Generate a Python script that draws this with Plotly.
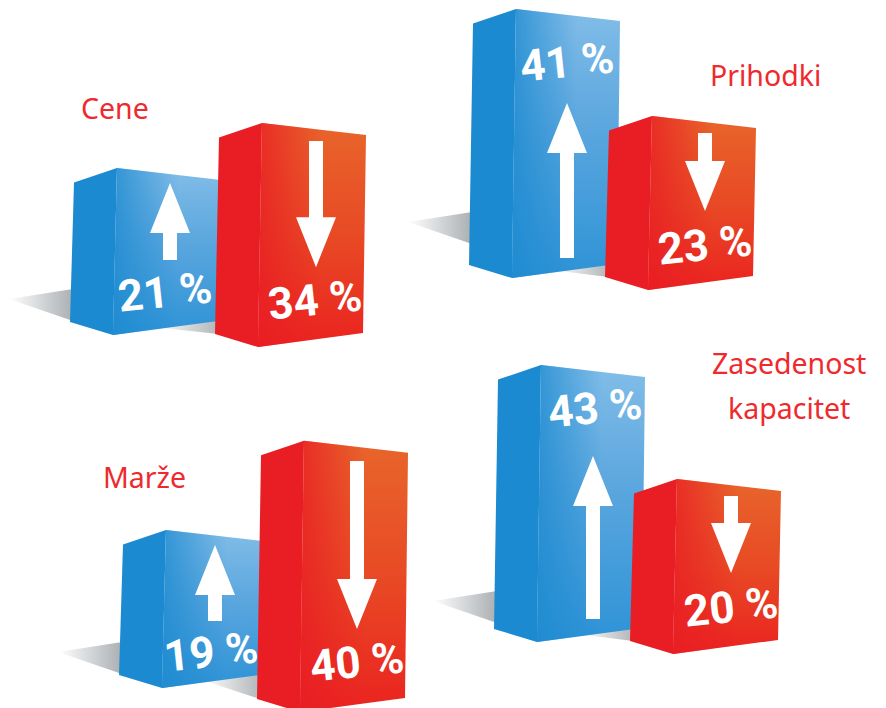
import plotly.graph_objects as go

# ---- data ----
panels = ["Cene", "Prihodki", "Marže", "Zasedenost<br>kapacitet"]
up_values = [21, 41, 19, 43]
down_values = [34, 23, 40, 20]

# ---- layout constants (pixel space of the hidden axes) ----
W, H = 886, 708
BLUE_BASE = [(113, 335), (512, 278), (162, 688), (537, 642)]
RED_BASE = [(258, 347), (648, 290), (300, 712), (673, 654)]
BLUE_SCALE = [7.95, 6.56, 8.32, 6.44]
RED_SCALE = [6.59, 7.57, 6.78, 8.75]
BLUE_ARROW = [(170, 260, 3.67), (567, 258, 3.78), (215, 621, 4.0), (593, 619, 3.79)]
RED_ARROW = [(316, 141, 3.71), (705, 133, 3.39), (357, 461, 4.2), (731, 496, 3.85)]
BLUE_TEXT = [(165, 292), (567, 62), (211, 652), (595, 408)]
RED_TEXT = [(315, 300), (705, 245), (357, 662), (731, 607)]
PANEL_TEXT = [(115, 108), (765, 75), (144, 477), (789, 363)]
SHADOW_SHIFT = [0, -20, 0, -5]
LINE_GAP = 45

BLUE = dict(side="#1c8ad0", front=[[0, "#82bde8"], [0.45, "#5aa6de"], [1, "#2e93d6"]],
            over="28,138,208")
RED = dict(side="#e91d24", front=[[0, "#e8652b"], [0.5, "#e84a25"], [1, "#ea2320"]],
           over="233,29,36")

fig = go.Figure()


def poly(xs, ys, color=None, gradient=None):
    kw = dict(x=xs + xs[:1], y=ys + ys[:1], mode="lines", fill="toself",
              line=dict(width=0), hoverinfo="skip", showlegend=False)
    if gradient:
        kw["fillgradient"] = gradient
    else:
        kw["fillcolor"] = color
    fig.add_trace(go.Scatter(**kw))


def box(base, value, scale, style):
    bx, by = base
    h = value * scale
    tx, ty = bx + 4, by - h
    xs = [tx - 43, tx, bx, bx - 43]
    ys = [ty + 14.5, ty, by, by - 13]
    poly(xs, ys, style["side"])
    xf = [tx, tx + 104, bx + 105, bx]
    yf = [ty, ty + 12, by - 14, by]
    poly(xf, yf, gradient=dict(type="vertical", colorscale=style["front"], start=ty, stop=by))
    o = style["over"]
    poly(xf, yf, gradient=dict(type="horizontal", start=bx, stop=bx + 65,
                               colorscale=[[0, f"rgba({o},0.8)"], [1, f"rgba({o},0)"]]))


def arrow(x, tail, length, direction):
    # direction -1: points up, +1: points down
    tip = tail + direction * length
    neck = tip - direction * 50
    s, hw = 7, 20
    poly([x - s, x + s, x + s, x + hw, x, x - hw, x - s],
         [tail, tail, neck, neck, tip, neck, neck], "#ffffff")


def shadow(base, next_base, shift):
    bx, by = base
    poly([bx - 104, bx - 40, bx - 40], [by - 36 + shift, by - 46 + shift, by - 14 + shift],
         gradient=dict(type="horizontal", start=bx - 104, stop=bx - 40,
                       colorscale=[[0, "rgba(170,175,178,0)"], [1, "rgba(170,175,178,1)"]]))
    rx, ry = next_base
    poly([bx + 40, rx - 40, rx - 40], [by - 8, by - 15, ry - 13],
         gradient=dict(type="horizontal", start=bx + 40, stop=rx - 40,
                       colorscale=[[0, "rgba(170,175,178,0)"], [1, "rgba(170,175,178,0.9)"]]))


for i in range(4):
    shadow(BLUE_BASE[i], RED_BASE[i], SHADOW_SHIFT[i])
    box(BLUE_BASE[i], up_values[i], BLUE_SCALE[i], BLUE)
    ax, at, ak = BLUE_ARROW[i]
    arrow(ax, at, up_values[i] * ak, -1)
    box(RED_BASE[i], down_values[i], RED_SCALE[i], RED)
    ax, at, ak = RED_ARROW[i]
    arrow(ax, at, down_values[i] * ak, 1)

annotations = []
for i in range(4):
    for v, (x, y) in ((up_values[i], BLUE_TEXT[i]), (down_values[i], RED_TEXT[i])):
        annotations.append(dict(x=x, y=y, text=f"<b>{v} %</b>", showarrow=False, textangle=-6,
                                font=dict(family="Roboto", size=44, color="#ffffff")))
    x, y = PANEL_TEXT[i]
    for k, line in enumerate(panels[i].split("<br>")):
        annotations.append(dict(x=x, y=y + k * LINE_GAP, text=line, showarrow=False,
                                font=dict(family="Noto Sans", size=28.5, color="#ee2a2e")))

fig.update_layout(
    width=W, height=H, margin=dict(l=0, r=0, t=0, b=0),
    paper_bgcolor="#ffffff", plot_bgcolor="#ffffff",
    xaxis=dict(range=[0, W], visible=False, fixedrange=True),
    yaxis=dict(range=[H, 0], visible=False, fixedrange=True),
    annotations=annotations, showlegend=False,
)
fig.write_html("out.html", post_script="document.body.style.margin='0';",
               config={"displayModeBar": False})
